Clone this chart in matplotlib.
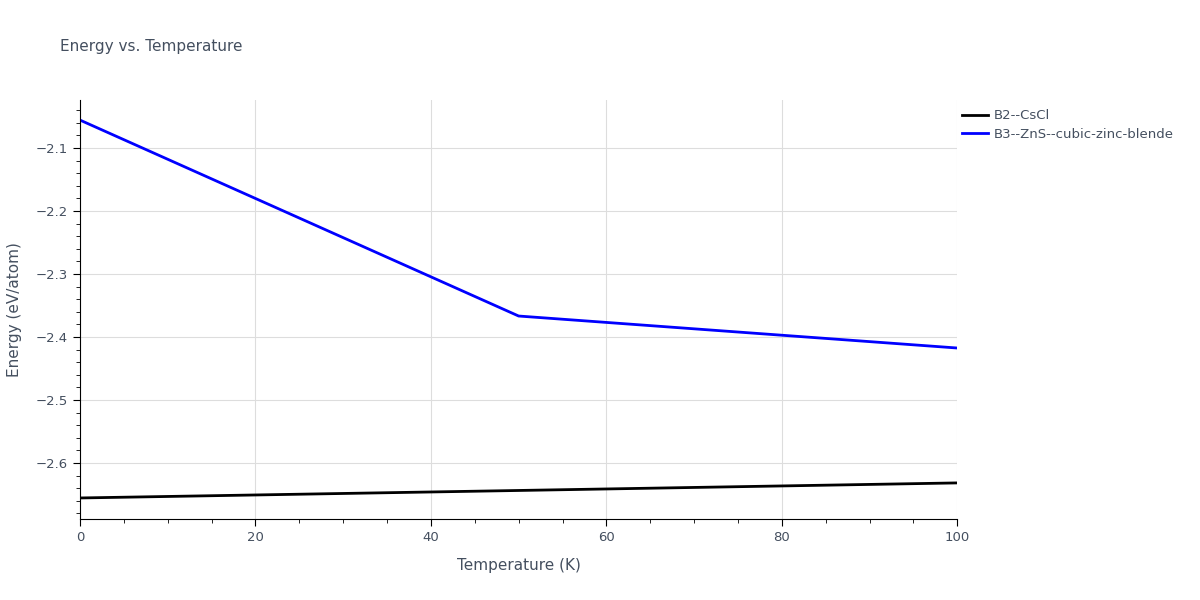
import matplotlib
matplotlib.use("Agg")
import matplotlib.pyplot as plt
from matplotlib.ticker import MultipleLocator

temps_cscl = [0, 50, 100]
energy_cscl = [-2.6556, -2.6437, -2.6317]
temps_zns = [0, 50, 100]
energy_zns = [-2.0556, -2.3667, -2.4175]

fig = plt.figure(figsize=(12, 6), dpi=100)
ax = fig.add_axes([0.0667, 0.135, 0.731, 0.698])
ax.plot(temps_cscl, energy_cscl, color="black", lw=2, label="B2--CsCl")
ax.plot(temps_zns, energy_zns, color="blue", lw=2, label="B3--ZnS--cubic-zinc-blende")
ax.set_xlim(0, 100)
ax.set_ylim(-2.689, -2.024)
ax.xaxis.set_major_locator(MultipleLocator(20))
ax.xaxis.set_minor_locator(MultipleLocator(5))
ax.yaxis.set_major_locator(MultipleLocator(0.1))
ax.yaxis.set_minor_locator(MultipleLocator(0.02))
ax.grid(True, which="major", color="#dddddd", lw=0.8)
ax.set_axisbelow(True)
for s in ["top", "right"]:
    ax.spines[s].set_visible(False)
tc = "#444f5f"
ax.tick_params(which="major", length=5, colors="black", labelcolor=tc, labelsize=9.5)
ax.tick_params(which="minor", length=3, colors="black")
ax.yaxis.set_major_formatter(matplotlib.ticker.FuncFormatter(lambda v, p: f"{v:.1f}".replace("-", "\u2212")))
ax.set_xlabel("Temperature (K)", color=tc, fontsize=11, labelpad=10)
ax.set_ylabel("Energy (eV/atom)", color=tc, fontsize=11, labelpad=10)
fig.text(0.05, 0.915, "Energy vs. Temperature", color=tc, fontsize=11)
ax.legend(loc="upper left", bbox_to_anchor=(0.995, 1.0), frameon=False, fontsize=9.5,
          labelcolor=tc, handlelength=2, handletextpad=0.4, labelspacing=0.4, borderaxespad=0.3)
fig.savefig("out.png")
